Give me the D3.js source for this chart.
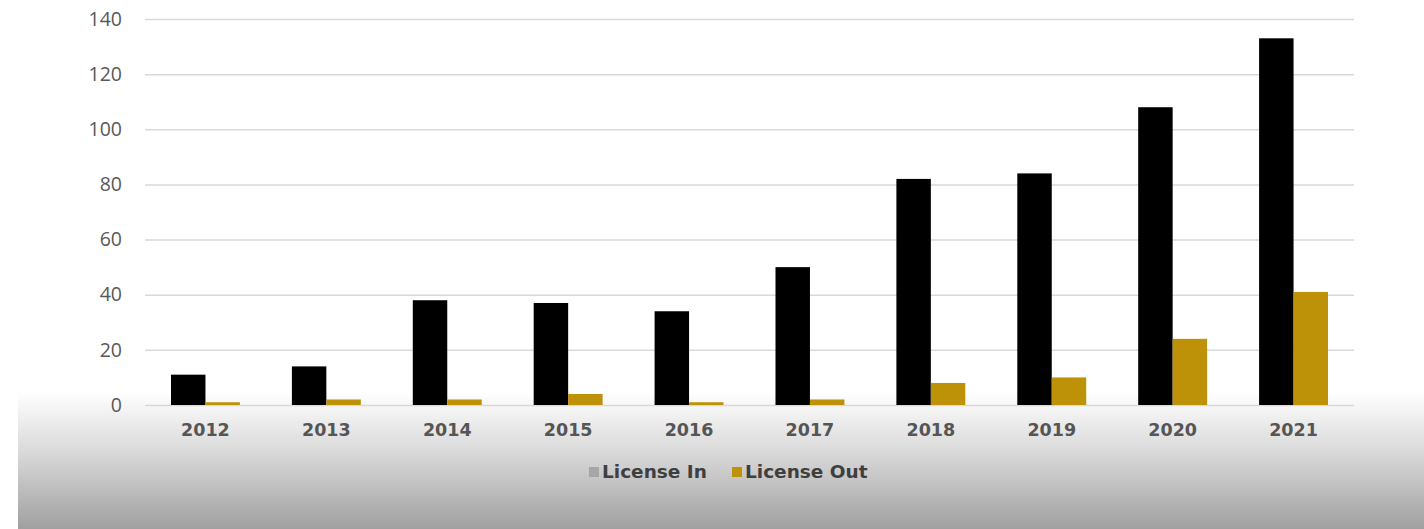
<!DOCTYPE html>
<html>
<head>
<meta charset="utf-8">
<script src="https://cdn.jsdelivr.net/npm/d3@7"></script>
<style>
  html, body { margin: 0; padding: 0; background: #fff; }
  svg { display: block; }
</style>
</head>
<body>
<svg id="chart" width="1424" height="529"></svg>
<script>
const years = ["2012","2013","2014","2015","2016","2017","2018","2019","2020","2021"];
const licenseIn = [11, 14, 38, 37, 34, 50, 82, 84, 108, 133];
const licenseOut = [1, 2, 2, 4, 1, 2, 8, 10, 24, 41];
const yTicks = [0, 20, 40, 60, 80, 100, 120, 140];
const seriesNames = ["License In", "License Out"];

const W = 1424, H = 529;
const svg = d3.select("#chart");
const defs = svg.append("defs");
const grad = defs.append("linearGradient").attr("id", "bg").attr("x1", 0).attr("y1", 0).attr("x2", 0).attr("y2", 1);
grad.append("stop").attr("offset", "0%").attr("stop-color", "#ffffff");
grad.append("stop").attr("offset", "45%").attr("stop-color", "#d8d8d8");
grad.append("stop").attr("offset", "100%").attr("stop-color", "#a0a0a0");

svg.append("rect").attr("x", 18).attr("y", 392).attr("width", W - 18).attr("height", H - 392).attr("fill", "url(#bg)");

const m = { left: 145, right: 1354, top: 19, bottom: 405 };
const x = d3.scaleBand().domain(years).range([m.left, m.right]).paddingInner(0.43).paddingOuter(0.215);
const y = d3.scaleLinear().domain([0, 140]).range([m.bottom, m.top]);

// gridlines
const yAxis = d3.axisLeft(y).tickValues(yTicks).tickSize(-(m.right - m.left)).tickPadding(23);
const gy = svg.append("g").attr("transform", `translate(${m.left},0)`).call(yAxis);
gy.select(".domain").remove();
gy.selectAll(".tick line").attr("stroke", "#d9d9d9").attr("stroke-width", 1.5);
gy.selectAll(".tick text").attr("fill", "#595959").attr("font-family", "'Open Sans', sans-serif").attr("font-size", 19.5);

const sub = d3.scaleBand().domain([0, 1]).range([0, x.bandwidth()]);
const colors = ["#000000", "#bd9208"];
[licenseIn, licenseOut].forEach((vals, si) => {
  svg.append("g").selectAll("rect").data(vals).join("rect")
    .attr("x", (d, i) => x(years[i]) + sub(si))
    .attr("width", sub.bandwidth())
    .attr("y", d => y(d))
    .attr("height", d => y(0) - y(d))
    .attr("fill", colors[si]);
});

// x axis labels
const xAxis = d3.axisBottom(x).tickSize(0).tickPadding(19);
const gx = svg.append("g").attr("transform", `translate(0,${m.bottom})`).call(xAxis);
gx.select(".domain").remove();
gx.selectAll(".tick text").attr("fill", "#555555").attr("font-family", "'DejaVu Sans', sans-serif").attr("font-weight", "bold").attr("font-size", 17.5);

// legend
const legendColors = ["#a6a6a6", "#bd9208"];
const legendX = [589, 732];
const lg = svg.append("g");
seriesNames.forEach((name, i) => {
  lg.append("rect").attr("x", legendX[i]).attr("y", 467).attr("width", 10).attr("height", 10).attr("fill", legendColors[i]);
  lg.append("text").attr("x", legendX[i] + 13).attr("y", 478)
    .attr("font-family", "'DejaVu Sans', sans-serif").attr("font-weight", "bold").attr("font-size", 18.5)
    .attr("fill", "#3f3f3f").text(name);
});
</script>
</body>
</html>
